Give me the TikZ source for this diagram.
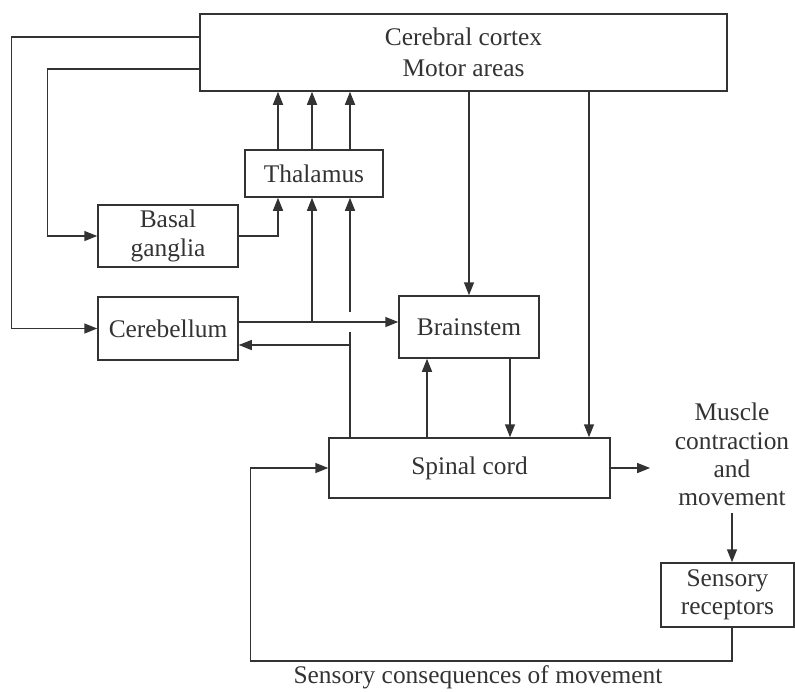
\documentclass[tikz,border=0pt]{standalone}
\usepackage{fontspec}
\setmainfont{Liberation Serif}
\usetikzlibrary{arrows.meta}

\begin{document}
\begin{tikzpicture}[x=0.5pt,y=-0.5pt,color=black!80,line width=0.75pt,
  every node/.style={font=\fontsize{12.7}{14.2}\selectfont},
  box/.style={rectangle,draw,align=center,inner sep=0pt},
  arr/.style={-{Triangle[length=6.5pt,width=5pt]}}]
\useasboundingbox (0,0) rectangle (795,691);

% Cortex
\node[box,minimum width=263.5pt,minimum height=38.5pt] (cortex) at (463.5,52.5) {Cerebral cortex\\[1.5pt]Motor areas};

% Thalamus and basal ganglia
\node[box,minimum width=69pt,minimum height=23.5pt] (thal) at (314,173.5) {Thalamus};
\node[box,minimum width=70pt,minimum height=31pt] (basal) at (168,236) {Basal\\ganglia};

% Cerebellum and brainstem
\node[box,minimum width=70pt,minimum height=31.5pt] (cereb) at (168,328.5) {Cerebellum};
\node[box,minimum width=70pt,minimum height=31pt] (brainstem) at (469,327) {Brainstem};

% Spinal cord
\node[box,minimum width=140.5pt,minimum height=30pt] (spinal) at (469.5,468) {Spinal cord};

% Output and feedback
\node[align=center,inner xsep=12pt] (muscle) at (732,454.5) {Muscle\\contraction\\and\\movement};
\node[box,minimum width=66.5pt,minimum height=32pt] (sensory) at (727.5,595) {Sensory\\receptors};
\node (conseq) at (478,677) {Sensory consequences of movement};

% Cortex to basal ganglia and cerebellum
\draw[arr] ([yshift=7.75pt]cortex.west) -- ++(-188,0) |- (cereb.west);
\draw[arr] ([yshift=-8.25pt]cortex.west) -- ++(-152,0) |- (basal.west);

% Into and out of thalamus
\draw[arr] (basal.east) -| ([xshift=-18pt]thal.south);
\foreach \dx in {-18,-1,18}
  \draw[arr] ([xshift=\dx pt]thal.north) -- ([xshift=\dx pt]thal.north |- cortex.south);

% Cerebellum
\draw[arr] ([yshift=3.25pt]cereb.east) -- ([yshift=3.25pt]cereb.east -| brainstem.west);
\draw[arr] ([xshift=-1pt,yshift=3.25pt]cereb.east -| thal.south) -- ([xshift=-1pt]thal.south);
\draw ([xshift=18pt]thal.south |- spinal.north) -- ([xshift=18pt,yshift=-1.75pt]thal.south |- cereb.east);
\draw[arr] ([xshift=18pt,yshift=8.25pt]thal.south |- cereb.east) -- ([xshift=18pt]thal.south);
\draw[arr] ([xshift=18pt,yshift=-8.25pt]thal.south |- cereb.east) -- ([yshift=-8.25pt]cereb.east);

% Descending paths
\draw[arr] (brainstem.north |- cortex.south) -- (brainstem.north);
\draw[arr] ([xshift=59.75pt]spinal.north |- cortex.south) -- ([xshift=59.75pt]spinal.north);
\draw[arr] ([xshift=-21pt]brainstem.south |- spinal.north) -- ([xshift=-21pt]brainstem.south);
\draw[arr] ([xshift=20.5pt]brainstem.south) -- ([xshift=20.5pt]brainstem.south |- spinal.north);

% Movement loop
\draw[arr] (spinal.east) -- (spinal.east -| muscle.west);
\draw[arr] (muscle.south) -- (muscle.south |- sensory.north);
\draw[arr] (muscle.south |- sensory.south) -- ++(0,33) -| ([xshift=-39pt]spinal.west) -- (spinal.west);
\end{tikzpicture}
\end{document}
